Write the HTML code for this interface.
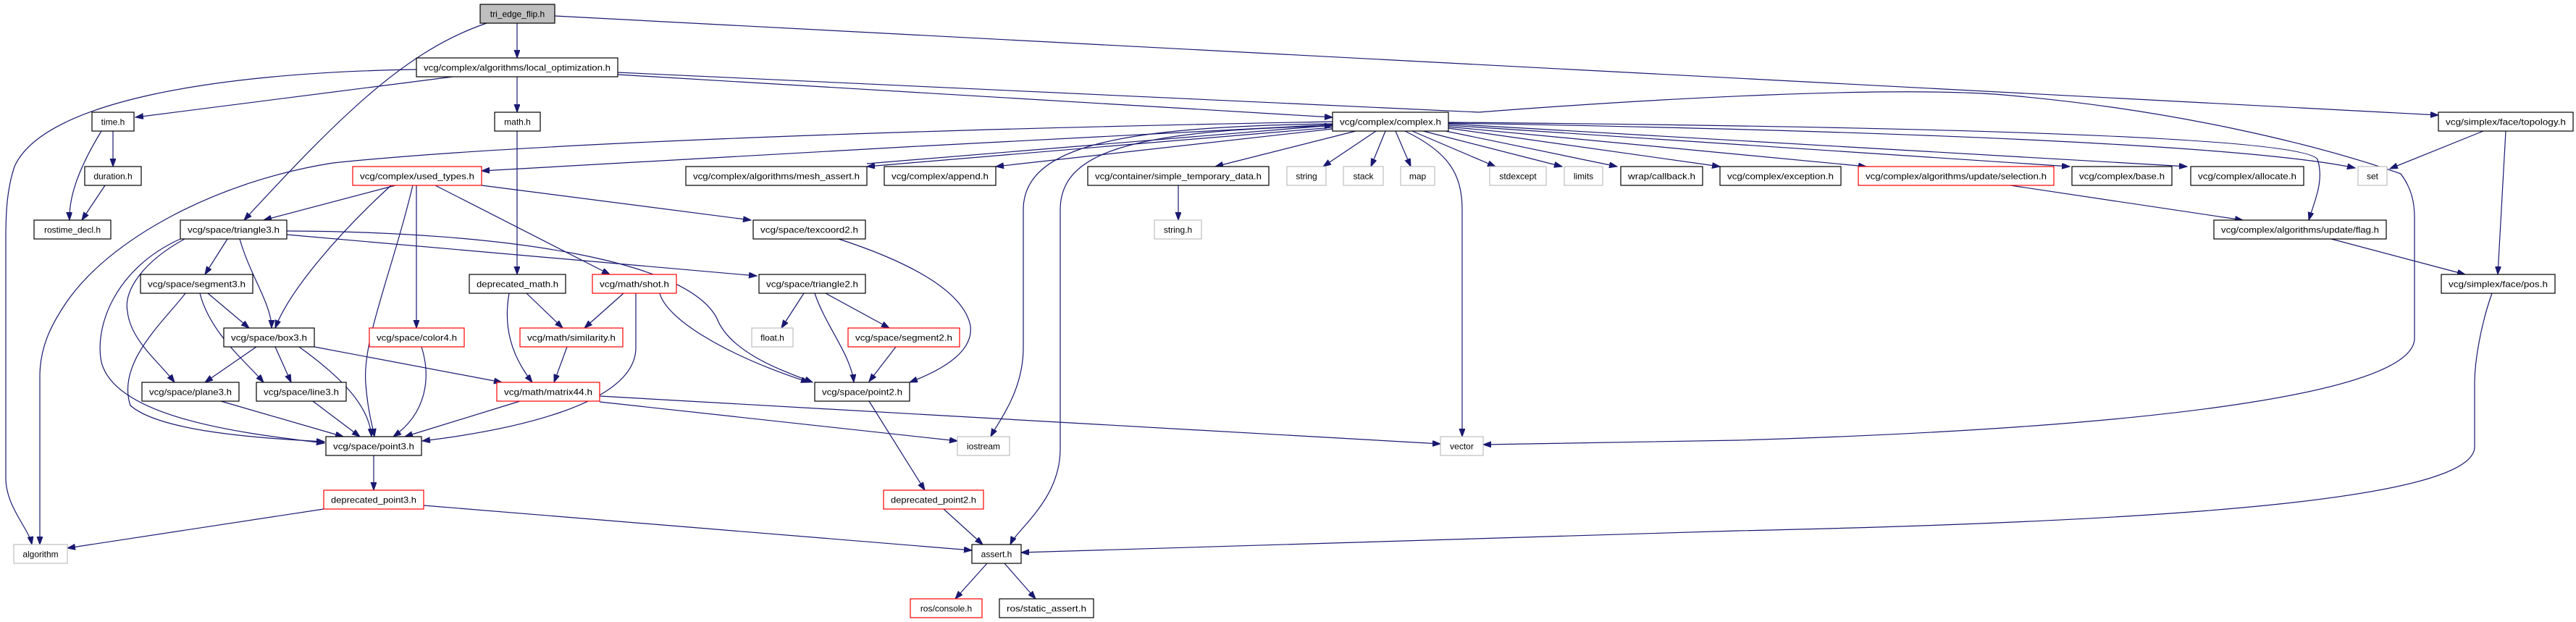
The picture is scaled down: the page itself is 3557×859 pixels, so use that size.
<!DOCTYPE html>
<html><head><meta charset="utf-8"><style>
html,body{margin:0;padding:0;background:#fff;}
svg{display:block;}
text{font-family:"Liberation Sans",Arial,sans-serif;font-size:12px;fill:#000;}
.e{fill:none;stroke:#191970;stroke-width:1.2;marker-end:url(#a);}
.n{fill:#fff;stroke:#000;stroke-width:1.2;}
.r{fill:#fff;stroke:#ff0000;stroke-width:1.2;}
.g{fill:#fff;stroke:#bfbfbf;stroke-width:1.2;}
.t{fill:#bfbfbf;stroke:#000;stroke-width:1.2;}
</style></head><body>
<svg width="3557" height="859" viewBox="0 0 3557 859" xmlns="http://www.w3.org/2000/svg">
<defs><marker id="a" markerWidth="12" markerHeight="10" refX="11" refY="4" orient="auto" markerUnits="userSpaceOnUse"><path d="M0,0 L11,4 L0,8 z" fill="#191970" stroke="#191970"/></marker></defs>
<g>
<path class="e" d="M714,32 L714,80"/>
<path class="e" d="M672,32 C560,70 470,160 337,304"/>
<path class="e" d="M766,22 L3367,159"/>
<path class="e" d="M575,96 C300,100 60,140 20,230 C10,260 8,290 8,330 L8,660 C8,700 40,730 44,752"/>
<path class="e" d="M625,106 L187,162"/>
<path class="e" d="M714,106 L714,155"/>
<path class="e" d="M853,100 L2042,155 C2300,135 2600,120 2754,130 C3000,150 3200,200 3315,240 C3330,260 3334,280 3334,300 L3334,467 C3334,540 3000,590 2400,608 L2048,614"/>
<path class="e" d="M853,103 L1840,162"/>
<path class="e" d="M1840,172 C1500,190 1000,215 665,236"/>
<path class="e" d="M1840,176 L1197,230"/>
<path class="e" d="M1840,178 L1375,230"/>
<path class="e" d="M1872,181 L1678,230"/>
<path class="e" d="M1627,256 L1627,304"/>
<path class="e" d="M1900,181 L1827,230"/>
<path class="e" d="M1913,181 L1893,230"/>
<path class="e" d="M1927,181 L1948,230"/>
<path class="e" d="M1950,181 L2065,230"/>
<path class="e" d="M1965,181 L2157,230"/>
<path class="e" d="M1996,181 L2233,230"/>
<path class="e" d="M2000,177 L2375,230"/>
<path class="e" d="M2000,175 L2577,230"/>
<path class="e" d="M2000,173 L2858,230"/>
<path class="e" d="M2000,171 L3020,230"/>
<path class="e" d="M2000,170 C2600,180 3100,200 3252,232"/>
<path class="e" d="M2000,169 C2700,175 3180,190 3200,220 C3210,250 3195,280 3188,304"/>
<path class="e" d="M1940,181 C2000,210 2019,240 2019,290 L2019,603"/>
<path class="e" d="M1840,171 C1550,175 1413,200 1413,290 L1413,480 C1413,540 1380,580 1368,603"/>
<path class="e" d="M1840,174 C1560,180 1464,210 1464,290 L1464,620 C1464,690 1405,730 1395,752"/>
<path class="e" d="M1840,168 C1200,180 700,200 460,225 C300,250 150,330 90,420 C70,450 55,480 55,520 L55,752"/>
<path class="e" d="M1197,226 L1840,173"/>
<path class="e" d="M546,256 L364,304"/>
<path class="e" d="M540,256 C470,320 400,400 380,453"/>
<path class="e" d="M570,256 C540,380 500,470 505,530 C508,570 515,590 517,603"/>
<path class="e" d="M575,256 L575,453"/>
<path class="e" d="M601,256 L842,379"/>
<path class="e" d="M665,256 L1037,304"/>
<path class="e" d="M314,330 L283,379"/>
<path class="e" d="M331,330 C345,380 375,420 375,453"/>
<path class="e" d="M255,330 C200,360 170,400 176,430 C180,470 220,500 241,528"/>
<path class="e" d="M249,330 C160,370 130,450 140,500 C160,580 350,600 448,612"/>
<path class="e" d="M256,405 C230,440 160,500 180,560 C220,595 350,605 448,610"/>
<path class="e" d="M287,405 L344,453"/>
<path class="e" d="M276,405 C290,460 340,500 364,528"/>
<path class="e" d="M354,479 L283,528"/>
<path class="e" d="M380,479 L402,528"/>
<path class="e" d="M413,479 C470,520 510,560 513,603"/>
<path class="e" d="M434,479 L693,528"/>
<path class="e" d="M582,479 C595,520 590,570 543,603"/>
<path class="e" d="M305,554 L474,603"/>
<path class="e" d="M432,554 L497,603"/>
<path class="e" d="M718,554 L559,603"/>
<path class="e" d="M828,555 L1322,609"/>
<path class="e" d="M828,547 L1989,613"/>
<path class="e" d="M703,405 C695,450 705,490 735,528"/>
<path class="e" d="M727,405 L777,453"/>
<path class="e" d="M861,405 L807,453"/>
<path class="e" d="M878,405 L878,480 C878,560 700,595 583,609"/>
<path class="e" d="M911,405 C920,440 1000,490 1117,528"/>
<path class="e" d="M783,479 L765,528"/>
<path class="e" d="M396,324 L1045,381"/>
<path class="e" d="M396,319 C700,320 950,360 990,440 C1010,490 1090,515 1122,528"/>
<path class="e" d="M1158,330 C1250,360 1330,400 1340,450 C1345,490 1290,515 1256,528"/>
<path class="e" d="M1110,405 L1079,453"/>
<path class="e" d="M1140,405 L1228,453"/>
<path class="e" d="M1125,405 C1140,450 1175,490 1179,528"/>
<path class="e" d="M1237,479 L1200,527"/>
<path class="e" d="M1200,554 L1277,677"/>
<path class="e" d="M516,629 L516,677"/>
<path class="e" d="M447,703 L93,757"/>
<path class="e" d="M585,698 L1342,760"/>
<path class="e" d="M1303,703 L1357,752"/>
<path class="e" d="M1363,778 L1319,827"/>
<path class="e" d="M1387,778 L1430,827"/>
<path class="e" d="M3441,405 C3425,450 3417,500 3417,530 L3417,617 C3417,690 3000,720 2400,733 L1410,763"/>
<path class="e" d="M3219,330 L3404,379"/>
<path class="e" d="M3460,181 L3449,379"/>
<path class="e" d="M3429,181 L3300,233"/>
<path class="e" d="M2776,256 L3097,304"/>
<path class="e" d="M156,181 L156,230"/>
<path class="e" d="M140,181 C110,230 95,270 96,304"/>
<path class="e" d="M145,256 L113,304"/>
<path class="e" d="M714,181 L714,379"/>
</g>
<g text-anchor="middle">
<rect class="t" x="663" y="6" width="103" height="26"/><text x="714.5" y="23.5">tri_edge_flip.h</text>
<rect class="n" x="575" y="80" width="278" height="26"/><text x="714" y="97.5" textLength="258" lengthAdjust="spacingAndGlyphs">vcg/complex/algorithms/local_optimization.h</text>
<rect class="n" x="127" y="155" width="58" height="26"/><text x="156" y="172.5">time.h</text>
<rect class="n" x="683" y="155" width="63" height="26"/><text x="714.5" y="172.5">math.h</text>
<rect class="n" x="1840" y="155" width="160" height="26"/><text x="1920" y="172.5" textLength="140" lengthAdjust="spacingAndGlyphs">vcg/complex/complex.h</text>
<rect class="n" x="3367" y="155" width="186" height="26"/><text x="3460" y="172.5" textLength="166" lengthAdjust="spacingAndGlyphs">vcg/simplex/face/topology.h</text>
<rect class="n" x="117" y="230" width="78" height="26"/><text x="156" y="247.5">duration.h</text>
<rect class="r" x="487" y="230" width="178" height="26"/><text x="576" y="247.5" textLength="158" lengthAdjust="spacingAndGlyphs">vcg/complex/used_types.h</text>
<rect class="n" x="947" y="230" width="250" height="26"/><text x="1072" y="247.5" textLength="230" lengthAdjust="spacingAndGlyphs">vcg/complex/algorithms/mesh_assert.h</text>
<rect class="n" x="1221" y="230" width="154" height="26"/><text x="1298" y="247.5" textLength="134" lengthAdjust="spacingAndGlyphs">vcg/complex/append.h</text>
<rect class="n" x="1502" y="230" width="250" height="26"/><text x="1627" y="247.5" textLength="230" lengthAdjust="spacingAndGlyphs">vcg/container/simple_temporary_data.h</text>
<rect class="g" x="1777" y="230" width="54" height="26"/><text x="1804" y="247.5">string</text>
<rect class="g" x="1855" y="230" width="55" height="26"/><text x="1882.5" y="247.5">stack</text>
<rect class="g" x="1934" y="230" width="47" height="26"/><text x="1957.5" y="247.5">map</text>
<rect class="g" x="2057" y="230" width="78" height="26"/><text x="2096" y="247.5">stdexcept</text>
<rect class="g" x="2160" y="230" width="53" height="26"/><text x="2186.5" y="247.5">limits</text>
<rect class="n" x="2238" y="230" width="113" height="26"/><text x="2294.5" y="247.5" textLength="93" lengthAdjust="spacingAndGlyphs">wrap/callback.h</text>
<rect class="n" x="2375" y="230" width="167" height="26"/><text x="2458.5" y="247.5" textLength="147" lengthAdjust="spacingAndGlyphs">vcg/complex/exception.h</text>
<rect class="r" x="2566" y="230" width="270" height="26"/><text x="2701" y="247.5" textLength="250" lengthAdjust="spacingAndGlyphs">vcg/complex/algorithms/update/selection.h</text>
<rect class="n" x="2861" y="230" width="138" height="26"/><text x="2930" y="247.5" textLength="118" lengthAdjust="spacingAndGlyphs">vcg/complex/base.h</text>
<rect class="n" x="3025" y="230" width="156" height="26"/><text x="3103" y="247.5" textLength="136" lengthAdjust="spacingAndGlyphs">vcg/complex/allocate.h</text>
<rect class="g" x="3256" y="230" width="40" height="26"/><text x="3276" y="247.5">set</text>
<rect class="n" x="47" y="304" width="106" height="26"/><text x="100" y="321.5">rostime_decl.h</text>
<rect class="n" x="249" y="304" width="147" height="26"/><text x="322.5" y="321.5" textLength="127" lengthAdjust="spacingAndGlyphs">vcg/space/triangle3.h</text>
<rect class="n" x="1040" y="304" width="155" height="26"/><text x="1117.5" y="321.5" textLength="135" lengthAdjust="spacingAndGlyphs">vcg/space/texcoord2.h</text>
<rect class="g" x="1594" y="304" width="65" height="26"/><text x="1626.5" y="321.5">string.h</text>
<rect class="n" x="3057" y="304" width="238" height="26"/><text x="3176" y="321.5" textLength="218" lengthAdjust="spacingAndGlyphs">vcg/complex/algorithms/update/flag.h</text>
<rect class="n" x="194" y="379" width="155" height="26"/><text x="271.5" y="396.5" textLength="135" lengthAdjust="spacingAndGlyphs">vcg/space/segment3.h</text>
<rect class="n" x="648" y="379" width="133" height="26"/><text x="714.5" y="396.5" textLength="113" lengthAdjust="spacingAndGlyphs">deprecated_math.h</text>
<rect class="r" x="818" y="379" width="116" height="26"/><text x="876" y="396.5" textLength="96" lengthAdjust="spacingAndGlyphs">vcg/math/shot.h</text>
<rect class="n" x="1048" y="379" width="147" height="26"/><text x="1121.5" y="396.5" textLength="127" lengthAdjust="spacingAndGlyphs">vcg/space/triangle2.h</text>
<rect class="n" x="3371" y="379" width="157" height="26"/><text x="3449.5" y="396.5" textLength="137" lengthAdjust="spacingAndGlyphs">vcg/simplex/face/pos.h</text>
<rect class="n" x="309" y="453" width="125" height="26"/><text x="371.5" y="470.5" textLength="105" lengthAdjust="spacingAndGlyphs">vcg/space/box3.h</text>
<rect class="r" x="510" y="453" width="131" height="26"/><text x="575.5" y="470.5" textLength="111" lengthAdjust="spacingAndGlyphs">vcg/space/color4.h</text>
<rect class="r" x="718" y="453" width="142" height="26"/><text x="789" y="470.5" textLength="122" lengthAdjust="spacingAndGlyphs">vcg/math/similarity.h</text>
<rect class="g" x="1038" y="453" width="57" height="26"/><text x="1066.5" y="470.5">float.h</text>
<rect class="r" x="1171" y="453" width="154" height="26"/><text x="1248" y="470.5" textLength="134" lengthAdjust="spacingAndGlyphs">vcg/space/segment2.h</text>
<rect class="n" x="196" y="528" width="134" height="26"/><text x="263" y="545.5" textLength="114" lengthAdjust="spacingAndGlyphs">vcg/space/plane3.h</text>
<rect class="n" x="354" y="528" width="124" height="26"/><text x="416" y="545.5" textLength="104" lengthAdjust="spacingAndGlyphs">vcg/space/line3.h</text>
<rect class="r" x="686" y="528" width="142" height="26"/><text x="757" y="545.5" textLength="122" lengthAdjust="spacingAndGlyphs">vcg/math/matrix44.h</text>
<rect class="n" x="1125" y="528" width="131" height="26"/><text x="1190.5" y="545.5" textLength="111" lengthAdjust="spacingAndGlyphs">vcg/space/point2.h</text>
<rect class="n" x="450" y="603" width="132" height="26"/><text x="516" y="620.5" textLength="112" lengthAdjust="spacingAndGlyphs">vcg/space/point3.h</text>
<rect class="g" x="1322" y="603" width="72" height="26"/><text x="1358" y="620.5">iostream</text>
<rect class="g" x="1989" y="603" width="59" height="26"/><text x="2018.5" y="620.5">vector</text>
<rect class="r" x="447" y="677" width="138" height="26"/><text x="516" y="694.5" textLength="118" lengthAdjust="spacingAndGlyphs">deprecated_point3.h</text>
<rect class="r" x="1220" y="677" width="138" height="26"/><text x="1289" y="694.5" textLength="118" lengthAdjust="spacingAndGlyphs">deprecated_point2.h</text>
<rect class="g" x="19" y="752" width="74" height="26"/><text x="56" y="769.5">algorithm</text>
<rect class="n" x="1342" y="752" width="68" height="26"/><text x="1376" y="769.5">assert.h</text>
<rect class="r" x="1257" y="827" width="99" height="26"/><text x="1306.5" y="844.5">ros/console.h</text>
<rect class="n" x="1380" y="827" width="130" height="26"/><text x="1445" y="844.5" textLength="110" lengthAdjust="spacingAndGlyphs">ros/static_assert.h</text>
</g>
</svg>
</body></html>
